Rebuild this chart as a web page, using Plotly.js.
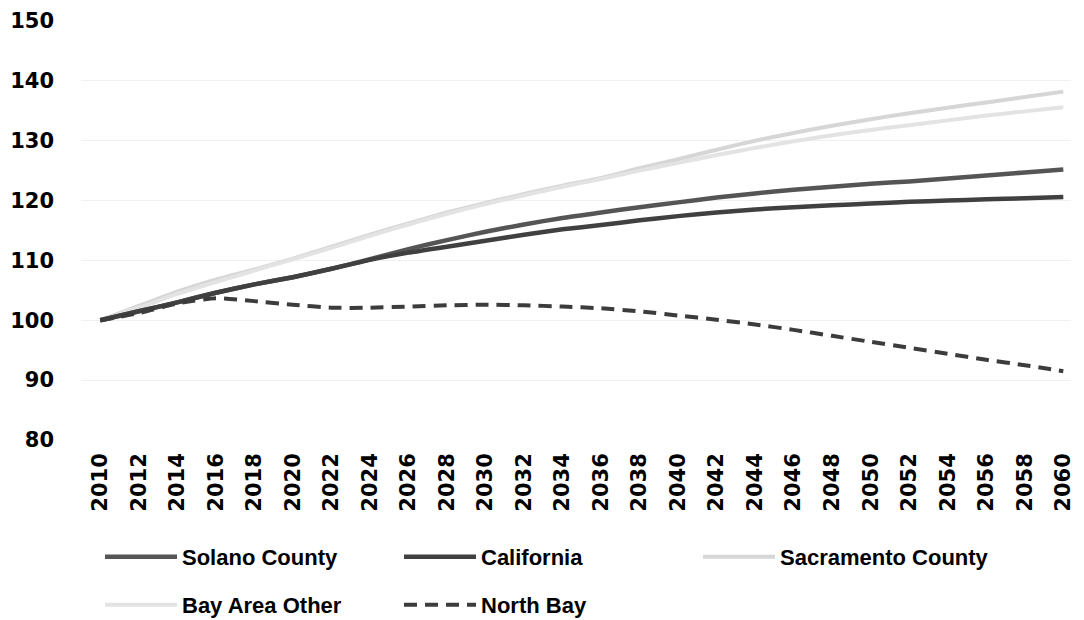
<!DOCTYPE html>
<html>
<head>
<meta charset="utf-8">
<script src="https://cdn.plot.ly/plotly-3.0.1.min.js"></script>
<style>
  html, body { margin: 0; padding: 0; background: #ffffff; }
  #chart { width: 1084px; height: 620px; }
</style>
</head>
<body>
<div id="chart"></div>
<script>
const years = [2010, 2012, 2014, 2016, 2018, 2020, 2022, 2024, 2026, 2028, 2030, 2032, 2034,
               2036, 2038, 2040, 2042, 2044, 2046, 2048, 2050, 2052, 2054, 2056, 2058, 2060];

const solanoCounty = [100, 101.5, 103.0, 104.6, 106.0, 107.2, 108.6, 110.2, 111.9, 113.4, 114.8, 116.0, 117.1,
                      118.0, 118.9, 119.7, 120.5, 121.2, 121.8, 122.3, 122.8, 123.2, 123.7, 124.2, 124.7, 125.2];
const california   = [100, 101.5, 103.0, 104.6, 106.0, 107.2, 108.6, 110.1, 111.3, 112.3, 113.3, 114.3, 115.2,
                      115.9, 116.7, 117.4, 118.0, 118.5, 118.9, 119.2, 119.5, 119.8, 120.0, 120.2, 120.4, 120.6];
const sacramentoCounty = [100, 102.4, 104.8, 106.8, 108.5, 110.3, 112.3, 114.3, 116.2, 118.0, 119.6, 121.1, 122.5,
                          123.8, 125.4, 126.9, 128.5, 130.0, 131.3, 132.5, 133.6, 134.6, 135.5, 136.4, 137.3, 138.2];
const bayAreaOther = [100, 102.1, 104.4, 106.4, 108.3, 110.2, 112.1, 114.1, 116.0, 117.8, 119.4, 120.9, 122.3,
                      123.6, 125.0, 126.3, 127.6, 128.8, 129.9, 130.9, 131.8, 132.6, 133.4, 134.2, 134.9, 135.6];
const northBay     = [100, 101.2, 102.8, 103.7, 103.2, 102.6, 102.1, 102.1, 102.3, 102.5, 102.6, 102.5, 102.3,
                      102.0, 101.5, 100.8, 100.1, 99.3, 98.4, 97.4, 96.4, 95.4, 94.4, 93.4, 92.5, 91.5];

const seriesNames = ["Solano County", "California", "Sacramento County", "Bay Area Other", "North Bay"];
const yTicks = [80, 90, 100, 110, 120, 130, 140, 150];
const xTicks = [];
for (let y = 2010; y <= 2060; y += 2) xTicks.push(y);

const styles = [
  {color: "#555555", width: 4.5, dash: "solid", legend: "legend"},
  {color: "#404040", width: 4.5, dash: "solid", legend: "legend"},
  {color: "#d6d6d6", width: 4, dash: "solid", legend: "legend"},
  {color: "#e3e3e3", width: 4, dash: "solid", legend: "legend2"},
  {color: "#3c3c3c", width: 4, dash: "13px,8px", legend: "legend2"}
];
const values = [solanoCounty, california, sacramentoCounty, bayAreaOther, northBay];

const traces = values.map((v, i) => ({
  type: "scatter",
  mode: "lines",
  name: seriesNames[i],
  legend: styles[i].legend,
  legendrank: i + 1,
  x: years,
  y: v,
  line: {color: styles[i].color, width: styles[i].width, dash: styles[i].dash, shape: "spline", smoothing: 0.6},
  hoverinfo: "x+y+name"
}));
// draw order: light lines first so dark lines sit on top
const drawOrder = [2, 3, 0, 1, 4];
const ordered = drawOrder.map(i => traces[i]);

const legendFont = {family: "Liberation Sans, Arial, sans-serif", size: 22, color: "#000000", weight: "bold"};
const legendBase = {
  orientation: "h",
  xref: "container",
  yref: "container",
  x: 100 / 1084,
  xanchor: "left",
  yanchor: "middle",
  entrywidth: 212,
  entrywidthmode: "pixels",
  itemwidth: 72,
  traceorder: "normal",
  font: legendFont,
  bgcolor: "rgba(0,0,0,0)"
};

const layout = {
  width: 1084,
  height: 620,
  margin: {l: 81, r: 13, t: 21, b: 180},
  paper_bgcolor: "#ffffff",
  plot_bgcolor: "#ffffff",
  showlegend: true,
  font: {family: "Liberation Sans, Arial, sans-serif", color: "#000000"},
  xaxis: {
    range: [2009, 2060.4],
    tickmode: "array",
    tickvals: xTicks,
    ticktext: xTicks.map(String),
    tickangle: -90,
    tickfont: {family: "DejaVu Sans, sans-serif", size: 21, color: "#000000", weight: "bold"},
    showgrid: false,
    zeroline: false,
    showline: false,
    ticks: "",
    ticklabelstandoff: 8
  },
  yaxis: {
    range: [80, 150],
    tickmode: "array",
    tickvals: yTicks,
    ticktext: yTicks.map(String),
    tickfont: {family: "DejaVu Sans, sans-serif", size: 21, color: "#000000", weight: "bold"},
    showgrid: true,
    gridcolor: "#f0f0f0",
    gridwidth: 1,
    zeroline: false,
    showline: false,
    ticks: "",
    ticklabelstandoff: 26
  },
  legend: Object.assign({}, legendBase, {y: 1 - 557 / 620}),
  legend2: Object.assign({}, legendBase, {y: 1 - 605 / 620})
};

Plotly.newPlot("chart", ordered, layout, {staticPlot: true, displayModeBar: false});
</script>
</body>
</html>
